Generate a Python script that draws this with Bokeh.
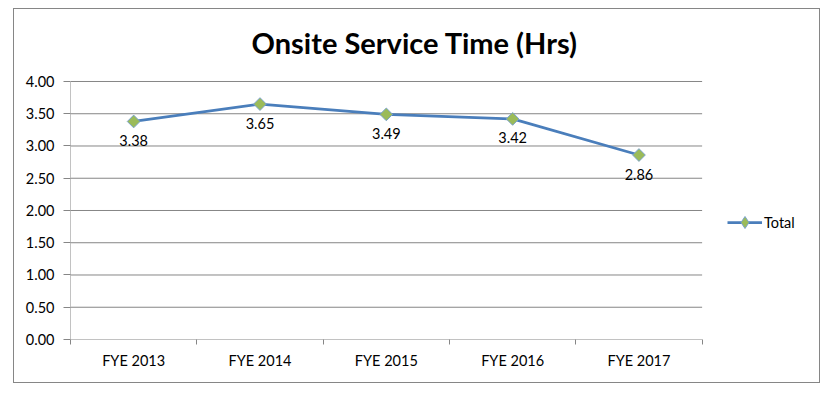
import math
from bokeh.plotting import figure
from bokeh.models import (ColumnDataSource, FixedTicker, NumeralTickFormatter, LabelSet,
                          Legend, LegendItem, Range1d, Label)
from bokeh.core.properties import value
from bokeh.embed import file_html
from bokeh.resources import INLINE

title_text = "Onsite Service Time (Hrs)"
categories = ["FYE 2013", "FYE 2014", "FYE 2015", "FYE 2016", "FYE 2017"]
values = [3.38, 3.65, 3.49, 3.42, 2.86]
labels = ["3.38", "3.65", "3.49", "3.42", "2.86"]
y_ticks = [0.0, 0.5, 1.0, 1.5, 2.0, 2.5, 3.0, 3.5, 4.0]

n = len(categories)
y_top = y_ticks[-1]
xpos = [i + 0.5 for i in range(n)]
src = ColumnDataSource(dict(x=xpos, y=values, lab=labels))
grid_src = ColumnDataSource(dict(x0=[0] * len(y_ticks), x1=[n] * len(y_ticks), y=y_ticks))

FONT = "Lato"
GRID = "#868686"
LINE = "#4a7ebb"
FILL = "#9bbb59"
EDGE = "#7aa3cc"

# the frame fills the whole chart box (right & top) so the legend and title can sit
# inside it; the plot area proper spans x 0..n, y 0..4
p = figure(width=807, height=375, output_backend="svg", toolbar_location=None,
           x_range=Range1d(0, n * 1.189), y_range=Range1d(0, y_top * 1.279),
           min_border_left=56, min_border_right=0, min_border_top=0, min_border_bottom=45)
p.margin = (8, 0, 0, 13)
p.styles = {"border": "1px solid #868686", "box-sizing": "border-box"}
p.outline_line_color = None

p.add_layout(Label(x=n * 0.545, y=y_top * 1.15, text=title_text,
                   text_align="center", text_baseline="middle",
                   text_font=FONT, text_font_style="bold", text_font_size="29px",
                   text_color="black"))

# x axis
p.xaxis.ticker = FixedTicker(ticks=xpos, minor_ticks=list(range(n + 1)))
p.xaxis.major_label_overrides = {x: c for x, c in zip(xpos, categories)}
p.xaxis.major_tick_line_color = None
p.xaxis.major_tick_out = 0
p.xaxis.major_tick_in = 0
p.xaxis.minor_tick_line_color = GRID
p.xaxis.minor_tick_out = 5
p.xaxis.minor_tick_in = 0
p.xaxis.axis_line_color = None
p.xaxis.major_label_standoff = 7
p.xaxis.major_label_text_font = FONT
p.xaxis.major_label_text_font_size = "14.5px"
p.xaxis.major_label_text_color = "black"

# y axis
p.yaxis.ticker = FixedTicker(ticks=y_ticks)
p.yaxis.formatter = NumeralTickFormatter(format="0.00")
p.yaxis.major_tick_line_color = GRID
p.yaxis.major_tick_out = 7
p.yaxis.major_tick_in = 0
p.yaxis.minor_tick_line_color = None
p.yaxis.axis_line_color = None
p.yaxis.major_label_standoff = 9
p.yaxis.major_label_text_font = FONT
p.yaxis.major_label_text_font_size = "14.5px"
p.yaxis.major_label_text_color = "black"

p.xgrid.grid_line_color = None
p.ygrid.grid_line_color = None

# horizontal gridlines limited to the category span, and the value axis line
p.segment(x0="x0", x1="x1", y0="y", y1="y", source=grid_src, line_color=GRID, line_width=1)
p.segment(x0=[0], x1=[0], y0=[y_ticks[0]], y1=[y_top], line_color=GRID, line_width=1)

ln = p.line("x", "y", source=src, line_color=LINE, line_width=2.75)
mk = p.scatter("x", "y", source=src, marker="square", angle=math.pi / 4, size=9,
               fill_color=FILL, line_color=EDGE, line_width=1)
# diamond swatch for the legend only
leg_mk = p.scatter("x", "y", source=src, marker="diamond", size=14,
                   fill_color=FILL, line_color=EDGE, line_width=1, visible=False)

ls = LabelSet(x="x", y="y", text="lab", source=src, y_offset=-19,
              text_align="center", text_baseline="middle",
              text_font=value(FONT), text_font_size=value("14.5px"), text_color=value("black"))
p.add_layout(ls)

legend = Legend(items=[LegendItem(label="Total", renderers=[ln, leg_mk])],
                location=(657, 102), border_line_color=None, background_fill_alpha=0,
                padding=0, margin=0, glyph_width=35, glyph_height=30, label_standoff=2,
                label_text_font=FONT, label_text_font_size="14.5px", label_text_color="black")
p.add_layout(legend)

open("out.html", "w").write(file_html(p, INLINE))
